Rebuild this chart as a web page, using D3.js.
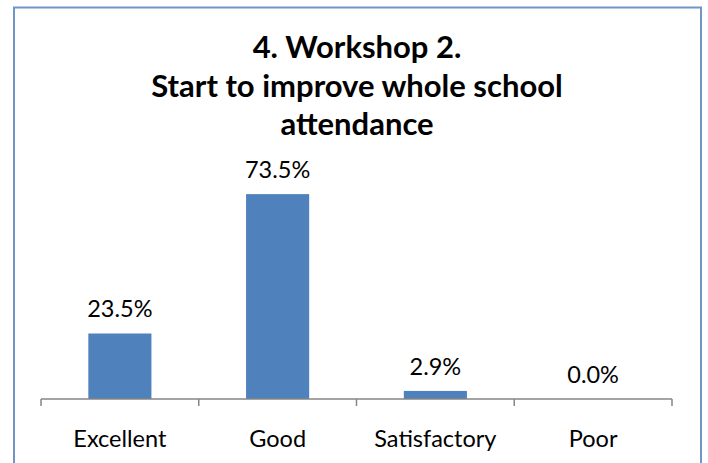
<!DOCTYPE html>
<html>
<head>
<meta charset="utf-8">
<script src="https://cdn.jsdelivr.net/npm/d3@7"></script>
<style>
  body { margin: 0; background: #fff; }
  text { font-family: Lato, "Open Sans", sans-serif; fill: #000; }
</style>
</head>
<body>
<script>
// chart values
var categories = ["Excellent", "Good", "Satisfactory", "Poor"];
var values = [0.235, 0.735, 0.029, 0.0];
var titleLines = ["4. Workshop 2.", "Start to improve whole school", "attendance"];

var width = 708,
    height = 463;

var svg = d3.select("body")
    .append("svg")
    .attr("width", width)
    .attr("height", height);

// outer chart border
svg.append("rect")
    .attr("x", 14)
    .attr("y", 7.5)
    .attr("width", 687)
    .attr("height", 480)
    .attr("fill", "#fff")
    .attr("stroke", "#7096c8")
    .attr("stroke-width", 2);

// title
svg.append("g")
    .selectAll("text")
    .data(titleLines)
    .enter()
    .append("text")
    .attr("x", 357)
    .attr("y", function(d, i) { return 58 + i * 38.5; })
    .attr("text-anchor", "middle")
    .attr("font-weight", "bold")
    .attr("font-size", 31)
    .text(function(d) { return d; });

var x = d3.scaleBand()
    .domain(categories)
    .range([41, 672])
    .paddingInner(0.6)
    .paddingOuter(0.3);

var y = d3.scaleLinear()
    .domain([0, 0.8])
    .range([399, 176]);

// bars
svg.append("g")
    .selectAll("rect")
    .data(values)
    .enter()
    .append("rect")
    .attr("x", function(d, i) { return x(categories[i]); })
    .attr("y", function(d) { return y(d); })
    .attr("width", x.bandwidth())
    .attr("height", function(d) { return y(0) - y(d); })
    .attr("fill", "#4f81bd");

// value labels
svg.append("g")
    .selectAll("text")
    .data(values)
    .enter()
    .append("text")
    .attr("x", function(d, i) { return x(categories[i]) + x.bandwidth() / 2; })
    .attr("y", function(d) { return y(d) - 16; })
    .attr("text-anchor", "middle")
    .attr("font-size", 23.5)
    .text(function(d) { return d3.format(".1%")(d); });

// x axis, ticks between categories
var tickPos = d3.range(categories.length + 1).map(function(i) { return 41 + i * (631 / categories.length); });

var axis = svg.append("g");
axis.append("line")
    .attr("x1", 41).attr("x2", 672)
    .attr("y1", 399).attr("y2", 399)
    .attr("stroke", "#868686")
    .attr("stroke-width", 1.5);
axis.selectAll(".tick")
    .data(tickPos)
    .enter()
    .append("line")
    .attr("class", "tick")
    .attr("x1", function(d) { return d; })
    .attr("x2", function(d) { return d; })
    .attr("y1", 399).attr("y2", 406)
    .attr("stroke", "#868686")
    .attr("stroke-width", 1.5);

axis.selectAll(".cat")
    .data(categories)
    .enter()
    .append("text")
    .attr("class", "cat")
    .attr("x", function(d) { return x(d) + x.bandwidth() / 2; })
    .attr("y", 447)
    .attr("text-anchor", "middle")
    .attr("font-size", 23.5)
    .text(function(d) { return d; });
</script>
</body>
</html>
